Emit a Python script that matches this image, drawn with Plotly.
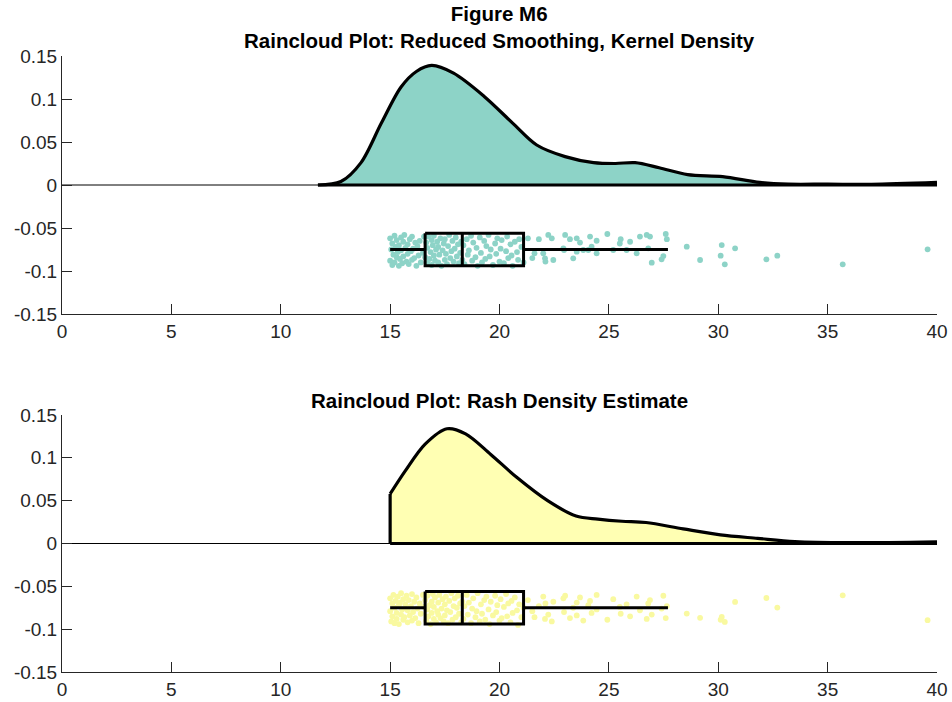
import plotly.graph_objects as go

# ---------------- data ----------------
# kernel density (reduced smoothing) - top panel
kde_x = [11.7, 12.75, 13.67, 14.6, 15.5, 16.2, 16.9, 17.9, 19.3, 20.6, 21.7, 23.0, 24.3,
         25.3, 26.2, 27.3, 28.6, 30.2, 31.9, 33.2, 35.0, 37.0, 40.0]
kde_y = [0.0, 0.004, 0.026, 0.072, 0.114, 0.132, 0.139, 0.130, 0.103, 0.072, 0.0465, 0.033,
         0.026, 0.025, 0.026, 0.020, 0.012, 0.0097, 0.003, 0.001, 0.001, 0.0008, 0.003]

# rash density estimate - bottom panel
rash_x = [15.0, 15.0, 15.7, 16.6, 17.6, 18.45, 19.6, 20.8, 22.2, 23.5, 24.5, 25.6, 26.7,
          28.4, 30.1, 31.8, 33.5, 36.0, 40.0]
rash_y = [0.0, 0.0578, 0.085, 0.116, 0.134, 0.128, 0.104, 0.077, 0.050, 0.032, 0.0285,
          0.026, 0.0245, 0.017, 0.010, 0.006, 0.0023, 0.001, 0.002]

# box statistics
box_stats = {"low": 15.0, "q1": 16.6, "median": 18.3, "q3": 21.1, "high": 27.7}
box_y = {"centre": -0.075, "top": -0.056, "bottom": -0.094}

# raw observations (rain)
obs_x = [
    15.0, 15.0, 15.05, 15.1, 15.1, 15.15, 15.2, 15.2, 15.25, 15.3, 15.3, 15.35, 15.4, 15.4,
    15.45, 15.5, 15.5, 15.55, 15.6, 15.6, 15.65, 15.7, 15.75, 15.8, 15.8, 15.85, 15.9, 15.95,
    16.0, 16.0, 16.05, 16.1, 16.15, 16.2, 16.25, 16.3, 16.35, 16.4, 16.5, 16.55,
    16.6, 16.65, 16.7, 16.7, 16.75, 16.8, 16.85, 16.9, 16.9, 16.95, 17.0, 17.0, 17.05, 17.1,
    17.15, 17.2, 17.2, 17.25, 17.3, 17.35, 17.4, 17.45, 17.5, 17.5, 17.55, 17.6, 17.65, 17.7,
    17.75, 17.8, 17.85, 17.9, 17.95, 18.0, 18.05, 18.1, 18.15, 18.2, 18.25, 18.3,
    18.35, 18.4, 18.5, 18.55, 18.6, 18.7, 18.75, 18.8, 18.9, 18.95, 19.0, 19.1, 19.15, 19.2,
    19.3, 19.35, 19.4, 19.5, 19.55, 19.6, 19.7, 19.8, 19.85, 19.9, 20.0, 20.05, 20.1, 20.2,
    20.3, 20.35, 20.4, 20.5, 20.55, 20.6, 20.7, 20.8, 20.85, 20.9, 21.0, 21.1,
    21.3, 21.5, 21.6, 21.8, 22.0, 22.08, 22.1, 22.23, 22.39, 22.46, 22.92, 22.95, 23.0, 23.22,
    23.37, 23.53, 23.53, 23.68, 23.83, 24.06, 24.14, 24.21, 24.44, 24.44, 24.93, 25.2, 25.5,
    25.54, 25.81, 25.97, 26.27, 26.42, 26.73, 26.8, 26.88, 26.96, 27.41, 27.49, 27.6, 27.65,
    28.56, 29.17, 30.11, 30.16, 30.3, 30.77, 32.2, 32.7, 35.69, 39.57,
]
jitter_top = [
    -0.062, -0.088, -0.075, -0.093, -0.068, -0.081, -0.059, -0.090, -0.072, -0.084, -0.064,
    -0.078, -0.094, -0.070, -0.086, -0.061, -0.076, -0.091, -0.066, -0.083, -0.058, -0.073,
    -0.089, -0.069, -0.080, -0.092, -0.063, -0.077, -0.087, -0.060, -0.074, -0.085, -0.067,
    -0.094, -0.071, -0.082, -0.065, -0.090, -0.079, -0.060,
    -0.084, -0.067, -0.091, -0.073, -0.060, -0.086, -0.078, -0.064, -0.093, -0.070, -0.082,
    -0.059, -0.088, -0.075, -0.066, -0.090, -0.072, -0.081, -0.062, -0.094, -0.076, -0.068,
    -0.087, -0.063, -0.080, -0.092, -0.071, -0.058, -0.085, -0.077, -0.065, -0.089, -0.074,
    -0.061, -0.083, -0.069, -0.091, -0.079, -0.066, -0.087,
    -0.070, -0.092, -0.063, -0.081, -0.076, -0.059, -0.088, -0.067, -0.084, -0.073, -0.094,
    -0.061, -0.079, -0.090, -0.065, -0.086, -0.071, -0.058, -0.083, -0.075, -0.093, -0.068,
    -0.080, -0.062, -0.089, -0.074, -0.064, -0.091, -0.077, -0.060, -0.085, -0.069, -0.082,
    -0.094, -0.066, -0.078, -0.087, -0.063, -0.072, -0.090,
    -0.062, -0.085, -0.0795, -0.063, -0.0795, -0.0853, -0.089, -0.058, -0.062, -0.0872,
    -0.0736, -0.0756, -0.058, -0.063, -0.0853, -0.062, -0.0775, -0.067, -0.0756, -0.0756,
    -0.060, -0.0717, -0.0648, -0.0795, -0.057, -0.0756, -0.068, -0.063, -0.0756, -0.066,
    -0.0795, -0.060, -0.058, -0.0736, -0.060, -0.0903, -0.0864, -0.0826, -0.057, -0.063,
    -0.0717, -0.0872, -0.0822, -0.0698, -0.0922, -0.0736, -0.0864, -0.0822, -0.0922, -0.0748,
]
jitter_bottom = [
    -0.079, -0.064, -0.091, -0.070, -0.085, -0.060, -0.093, -0.075, -0.067, -0.088, -0.081,
    -0.062, -0.072, -0.094, -0.069, -0.083, -0.058, -0.077, -0.089, -0.065, -0.086, -0.071,
    -0.061, -0.092, -0.078, -0.066, -0.084, -0.073, -0.059, -0.090, -0.080, -0.068, -0.087,
    -0.063, -0.076, -0.093, -0.070, -0.082, -0.060, -0.074,
    -0.066, -0.090, -0.077, -0.061, -0.085, -0.072, -0.094, -0.068, -0.081, -0.059, -0.088,
    -0.074, -0.063, -0.092, -0.079, -0.069, -0.083, -0.060, -0.087, -0.076, -0.065, -0.091,
    -0.071, -0.084, -0.062, -0.078, -0.093, -0.067, -0.080, -0.058, -0.089, -0.073, -0.064,
    -0.086, -0.075, -0.061, -0.082, -0.070, -0.092, -0.068,
    -0.088, -0.073, -0.060, -0.083, -0.069, -0.093, -0.076, -0.064, -0.086, -0.079, -0.058,
    -0.091, -0.071, -0.082, -0.066, -0.089, -0.062, -0.077, -0.094, -0.068, -0.084, -0.061,
    -0.080, -0.072, -0.090, -0.065, -0.087, -0.074, -0.059, -0.085, -0.070, -0.092, -0.067,
    -0.081, -0.063, -0.078, -0.095, -0.071, -0.086, -0.075,
    -0.066, -0.079, -0.086, -0.073, -0.062, -0.088, -0.070, -0.083, -0.091, -0.068, -0.064,
    -0.080, -0.061, -0.087, -0.075, -0.069, -0.084, -0.063, -0.090, -0.072, -0.067, -0.081,
    -0.060, -0.077, -0.089, -0.065, -0.074, -0.082, -0.071, -0.085, -0.062, -0.078, -0.088,
    -0.070, -0.066, -0.083, -0.076, -0.061, -0.087, -0.073,
    -0.0818, -0.0868, -0.0890, -0.0857, -0.0915, -0.0682, -0.0636, -0.0748, -0.0605, -0.0895,
]

x_ticks = [0, 5, 10, 15, 20, 25, 30, 35, 40]
y_ticks = [-0.15, -0.1, -0.05, 0, 0.05, 0.1, 0.15]
y_tick_text = ["-0.15", "-0.1", "-0.05", "0", "0.05", "0.1", "0.15"]

titles = ["Figure M6<br>Raincloud Plot: Reduced Smoothing, Kernel Density",
          "Raincloud Plot: Rash Density Estimate"]
cloud_colors = ["#8dd3c7", "#ffffb3"]
rain_colors = ["#8dd3c7", "#f9f9a0"]

# ---------------- figure ----------------
fig = go.Figure()
W, H = 952, 702
xdom = [62 / W, 937 / W]
ydom_top = [1 - 314 / H, 1 - 56 / H]
ydom_bot = [1 - 672 / H, 1 - 415 / H]

panels = [
    ("x", "y", kde_x, kde_y, jitter_top, cloud_colors[0], rain_colors[0], False),
    ("x2", "y2", rash_x, rash_y, jitter_bottom, cloud_colors[1], rain_colors[1], True),
]

for xa, ya, cx, cy, jit, ccol, rcol, has_edge in panels:
    # zero reference line across the axes
    fig.add_trace(go.Scatter(x=[x_ticks[0], x_ticks[-1]], y=[0, 0], mode="lines",
                             line=dict(color="black", width=1), xaxis=xa, yaxis=ya,
                             hoverinfo="skip", showlegend=False))
    start = 1 if has_edge else 0
    # filled cloud
    fig.add_trace(go.Scatter(x=cx[start:], y=cy[start:], mode="lines", fill="tozeroy",
                             fillcolor=ccol, line=dict(color="black", width=3.2,
                                                       shape="spline", smoothing=0.9),
                             xaxis=xa, yaxis=ya, showlegend=False))
    # baseline of cloud
    fig.add_trace(go.Scatter(x=[cx[0], cx[-1]], y=[0, 0], mode="lines",
                             line=dict(color="black", width=3.2), xaxis=xa, yaxis=ya,
                             showlegend=False, hoverinfo="skip"))
    if has_edge:
        fig.add_trace(go.Scatter(x=cx[:2], y=cy[:2], mode="lines",
                                 line=dict(color="black", width=3.2), xaxis=xa, yaxis=ya,
                                 showlegend=False, hoverinfo="skip"))
    # rain
    fig.add_trace(go.Scatter(x=obs_x, y=jit, mode="markers",
                             marker=dict(color=rcol, size=5.8, line=dict(width=0)),
                             xaxis=xa, yaxis=ya, showlegend=False))
    # box
    b = box_stats
    fig.add_trace(go.Scatter(
        x=[b["q1"], b["q3"], b["q3"], b["q1"], b["q1"], None, b["median"], b["median"]],
        y=[box_y["top"], box_y["top"], box_y["bottom"], box_y["bottom"], box_y["top"], None,
           box_y["top"], box_y["bottom"]],
        mode="lines", line=dict(color="black", width=3), xaxis=xa, yaxis=ya,
        showlegend=False))
    fig.add_trace(go.Scatter(
        x=[b["low"], b["q1"], None, b["q3"], b["high"]],
        y=[box_y["centre"]] * 2 + [None] + [box_y["centre"]] * 2,
        mode="lines", line=dict(color="black", width=3), xaxis=xa, yaxis=ya,
        showlegend=False))

axis_common = dict(showgrid=False, zeroline=False, showline=True, linecolor="#262626",
                   linewidth=1, ticks="inside", ticklen=10, tickcolor="#262626",
                   automargin=False,
                   tickfont=dict(family="Liberation Sans, Arial, sans-serif", size=19,
                                 color="#262626"))

fig.update_layout(
    width=W, height=H, margin=dict(l=0, r=0, t=0, b=0),
    paper_bgcolor="white", plot_bgcolor="white",
    xaxis=dict(domain=xdom, range=[0, 40], tickvals=x_ticks, anchor="y", **axis_common),
    yaxis=dict(domain=ydom_top, range=[-0.15, 0.15], tickvals=y_ticks, ticktext=y_tick_text,
               anchor="x", **axis_common),
    xaxis2=dict(domain=xdom, range=[0, 40], tickvals=x_ticks, anchor="y2", **axis_common),
    yaxis2=dict(domain=ydom_bot, range=[-0.15, 0.15], tickvals=y_ticks, ticktext=y_tick_text,
                anchor="x2", **axis_common),
    showlegend=False,
)

fig.add_annotation(text="<b>" + titles[0].replace("<br>", "</b><br><b>") + "</b>",
                   x=(xdom[0] + xdom[1]) / 2, y=1 - 0 / H, xref="paper", yref="paper",
                   xanchor="center", yanchor="top", showarrow=False,
                   font=dict(family="Liberation Sans, Arial, sans-serif", size=20.5,
                             color="black"))
fig.add_annotation(text="<b>" + titles[1] + "</b>",
                   x=(xdom[0] + xdom[1]) / 2, y=1 - 387 / H, xref="paper", yref="paper",
                   xanchor="center", yanchor="top", showarrow=False,
                   font=dict(family="Liberation Sans, Arial, sans-serif", size=20.5,
                             color="black"))

fig.write_html("out.html", config={"displayModeBar": False},
               post_script="document.body.style.margin='0px';document.body.style.overflow='hidden';")
